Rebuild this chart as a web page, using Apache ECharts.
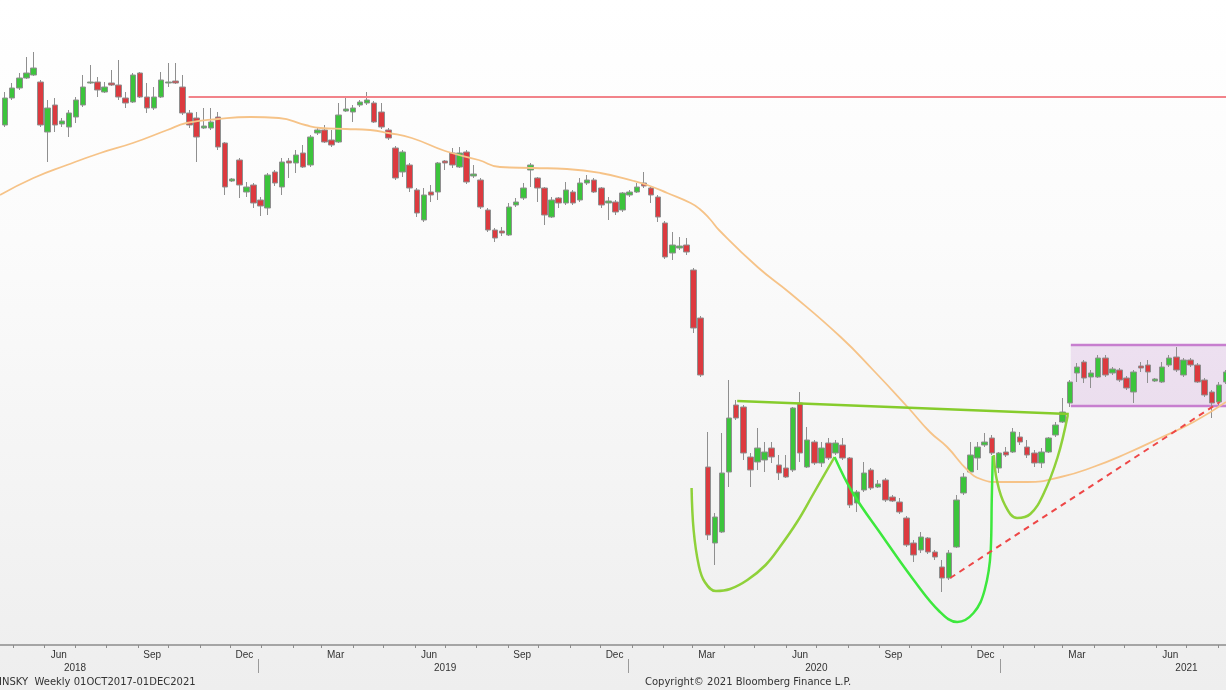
<!DOCTYPE html>
<html><head><meta charset="utf-8">
<script src="https://cdn.jsdelivr.net/npm/echarts@6/dist/echarts.min.js"></script>
<style>html,body{margin:0;padding:0;background:#f1f1f1}#c{width:1226px;height:690px}</style>
</head><body><div id="c"></div>
<script>
// ---------- data ----------
const axisStartDate = '2018-04-18';
const axisDays = 1210;
const firstBarDate = '2018-04-23';          // weekly bars, 7 days apart
const monthNames = ['Jan','Feb','Mar','Apr','May','Jun','Jul','Aug','Sep','Oct','Nov','Dec'];
const labelledMonths = [3, 6, 9, 12];
const footerLeft = 'INSKY  Weekly 01OCT2017-01DEC2021';
const footerRight = 'Copyright\u00a9 2021 Bloomberg Finance L.P.';

const opens = [52.0,54.7,55.7,56.7,57.0,56.3,51.3,54.0,52.1,51.8, 52.8,54.0,56.2,56.3,55.3,56.2,56.0,54.7,54.3,57.2, 54.8,53.7,54.8,56.2,56.4,55.8,53.2,52.7,51.7,51.7, 52.8,50.2,46.4,48.5,45.3,46.0,44.5,43.7,47.3,45.8, 48.4,48.2,49.2,48.0,51.2,51.5,50.5,50.3,53.4,53.3, 54.0,54.2,54.2,53.3,51.5,49.7,47.3,48.0,45.5,42.5, 45.3,45.3,48.4,49.2,47.8,49.3,46.9,46.5,43.5,41.5, 41.4,41.0,44.0,44.7,47.5,46.7,45.7,42.8,44.7,44.2, 45.3,44.5,46.2,46.5,45.7,44.2,44.3,43.5,45.0,45.3, 46.2,45.7,44.8,42.2,39.2,39.7,40.0,37.5,32.7,17.8, 10.2,11.3,17.3,24.0,23.8,18.8,18.3,18.5,19.7,18.0, 17.7,17.5,24.2,17.8,20.3,18.2,20.2,19.2,20.0,18.7, 14.2,15.5,17.5,15.8,16.5,14.8,14.3,12.7,10.2,9.5, 10.7,9.3,7.8,6.7,9.8,15.2,17.3,18.7,20.0,20.7, 17.7,19.3,19.3,20.8,19.8,19.2,18.2,19.3,21.0,22.3, 24.2,27.2,28.3,26.8,26.8,28.7,27.2,27.5,26.7,25.3, 27.9,28.0,26.4,26.3,28.0,28.8,27.0,28.5,28.0,26.5, 25.3,24.3,26.3];
const closes = [54.7,55.7,56.7,57.2,57.7,52.0,53.7,52.0,52.4,53.2, 54.5,55.8,56.3,55.5,55.8,56.0,54.8,54.2,57.0,54.8, 53.7,54.8,56.5,56.3,56.2,53.2,52.0,50.8,51.9,52.3, 49.8,45.8,46.6,46.0,45.8,44.2,43.9,47.0,46.2,48.3, 48.2,49.0,47.8,50.8,51.5,50.3,50.0,53.0,53.6,53.7, 54.3,54.5,52.3,51.8,50.7,46.7,49.3,45.7,43.2,45.0, 45.0,48.2,48.2,48.0,49.2,46.3,47.1,43.8,41.5,40.7, 41.2,43.8,44.3,45.7,48.0,45.7,43.0,44.5,44.2,45.5, 44.2,46.2,46.5,45.3,44.0,44.4,43.3,45.2,45.3,45.8, 45.9,45.0,42.8,38.8,40.0,39.9,39.3,31.7,27.0,11.0, 12.8,17.2,22.7,22.7,19.2,17.5,19.7,19.3,18.8,17.2, 16.8,23.7,19.2,20.5,18.2,19.7,18.7,20.2,18.7,14.0, 15.3,17.2,15.7,16.1,14.5,14.4,13.3,10.0,9.0,10.8, 9.3,8.8,6.7,9.2,14.5,16.8,19.0,19.8,20.3,19.2, 19.2,19.0,21.3,20.3,19.0,18.2,19.3,20.7,22.0,23.3, 26.3,27.8,26.7,27.2,28.7,27.0,27.6,26.5,25.7,27.3, 27.7,27.3,26.6,27.8,28.7,27.5,28.5,28.0,26.3,25.0, 24.2,26.0,27.3];
const lows = [51.8,54.5,55.5,56.6,56.9,51.8,48.3,51.3,51.8,50.8, 52.2,53.8,56.1,54.8,55.2,55.9,54.5,53.7,54.2,54.7, 53.2,53.5,54.7,55.8,56.1,53.0,51.7,48.3,51.6,51.5, 49.5,45.0,46.3,44.7,44.8,43.7,42.9,43.0,45.9,45.0, 46.7,47.2,47.7,47.8,51.0,50.2,49.8,50.2,53.3,52.3, 53.8,54.0,52.2,51.6,50.5,46.5,46.8,45.3,42.8,42.3, 44.3,44.5,47.5,47.7,47.7,46.1,46.7,43.6,41.3,40.3, 40.9,40.9,43.8,44.5,45.8,44.3,42.0,42.7,43.7,44.0, 44.0,44.3,46.0,45.2,43.7,42.5,43.0,43.3,44.8,45.2, 45.7,44.2,42.3,38.6,38.5,39.5,39.0,31.2,26.8,10.5, 8.0,11.2,15.8,22.5,18.5,15.8,17.5,17.3,18.2,16.5, 16.7,17.3,18.3,17.7,18.0,17.8,18.5,19.0,18.5,13.7, 13.3,15.3,15.5,15.7,14.3,14.3,13.1,9.8,8.3,9.2, 9.1,8.5,5.3,6.5,9.7,15.0,17.2,17.5,19.8,19.0, 17.2,18.8,19.2,20.0,18.7,17.8,17.7,19.2,20.8,22.2, 23.8,26.3,26.2,25.7,26.7,26.8,27.0,26.3,25.5,24.2, 27.3,26.2,26.3,26.2,27.8,27.3,26.8,27.8,26.2,24.8, 22.7,24.0,26.1];
const highs = [55.3,56.2,57.2,58.8,59.3,56.5,54.5,54.7,52.7,53.5, 54.8,57.0,58.0,56.8,56.3,57.5,58.5,55.3,57.2,57.3, 56.2,55.8,57.3,58.2,58.2,57.0,53.5,53.3,53.7,53.7, 53.3,50.3,46.7,48.7,46.3,46.2,44.8,47.2,47.5,48.7, 48.7,49.5,50.0,51.0,51.8,52.0,51.5,54.2,54.7,54.0, 54.5,55.3,54.4,54.2,51.7,49.9,49.5,48.2,45.7,45.7, 46.0,48.3,48.5,49.7,49.8,49.5,48.0,46.7,43.7,41.7, 41.8,44.2,44.7,46.2,48.2,46.8,45.8,44.8,44.8,46.3, 45.5,46.7,47.0,46.7,45.8,44.8,44.5,45.3,45.5,46.2, 47.3,45.8,45.0,42.4,41.3,40.8,40.7,37.7,32.9,21.3, 13.2,21.2,26.5,24.5,24.0,19.2,21.7,20.3,20.3,19.0, 19.0,23.8,25.3,21.8,20.5,20.3,20.7,20.5,20.7,18.8, 15.5,18.3,17.7,16.5,16.7,15.0,14.7,12.9,10.5,11.3, 10.8,9.5,8.5,9.5,15.0,17.2,20.3,20.3,21.2,21.0, 19.3,19.8,21.7,21.3,20.5,19.5,19.7,20.8,22.3,24.7, 26.5,28.2,28.5,27.5,29.0,29.0,27.8,27.7,26.9,27.5, 28.3,28.5,26.7,28.3,29.0,29.8,28.7,28.7,28.2,26.7, 25.5,26.3,27.5];

// moving average: week index (0 = first bar) and value
const maWeeks  = [-0.7,4,8.7,13.4,18,22.8,25.6,30,34.5,38.5,42.3,44.4,48,51.4,54,57.3,62,66.7,69.7,74.4,79.2,83.8,88.5,90.9,93.3,96.5,97.9,99.3,100.6,106,110.6,117.7,122.3,127.1,130.3,132.7,135.6,137.4,139.8,144,148.7,153.3,158.1,162.7,167.4,172];
const maValues = [45.0,46.7,48.0,49.2,50.2,51.5,52.2,52.6,52.8,52.7,52.0,51.7,51.6,51.5,51.2,50.7,49.4,48.5,47.8,47.7,47.6,47.2,46.4,45.9,45.2,44.2,43.6,42.6,41.5,37.8,35.2,30.8,27.5,23.8,21.3,19.8,17.5,16.6,16.3,16.3,16.8,17.8,19.2,20.7,22.3,24.3];

// drawn annotations (week index, value)
const resistanceLine = [[25.8, 54.8], [172, 54.8]];
const neckline = [[103.1, 24.4], [149.8, 23.1]];
const leftShoulder = [[96.66,15.7],[96.94,11.5],[97.65,8.0],[98.64,6.3],[100.18,5.4],[102.15,5.6],[104.55,6.5],[107.09,8.0],[109.2,9.8],[111.6,12.3],[113.85,15.1],[116.81,18.8]];
const headCurve = [[116.81,18.8],[119.49,15.2],[123.29,11.2],[127.94,6.5],[131.75,3.3],[134.14,2.3],[136.39,3.2],[137.94,5.5],[138.79,9.5],[139.07,14.5],[139.21,18.9]];
const rightShoulder = [[139.35,19.0],[139.78,16.5],[140.9,14.0],[142.6,12.7],[144.43,13.1],[146.26,15.1],[148.23,18.8],[149.78,23.0]];
const supportTrend = [[133.1, 6.7], [171.2, 24.3]];
const rangeBox = {startWeek: 150.1, top: 30.0, bottom: 23.9};

// ---------- build ----------
const DAY = 86400000;
const t0 = Date.parse(axisStartDate + 'T00:00:00Z');
const barOffset = Math.round((Date.parse(firstBarDate + 'T00:00:00Z') - t0) / DAY);
const days = [];
for (let i = 0; i < axisDays; i++) days.push(new Date(t0 + i * DAY).toISOString().slice(0, 10));
const dayIdx = w => Math.max(0, Math.min(axisDays - 1, Math.round(barOffset + 7 * w)));
const lastIdx = axisDays - 1;

const candles = days.map(() => '-');
opens.forEach((o, j) => { const d = dayIdx(j); candles[d] = [o, closes[j], lows[j], highs[j]]; });
const toPts = arr => arr.map(p => [dayIdx(p[0]), p[1]]);
const maData = maWeeks.map((w, i) => [dayIdx(w), maValues[i]]);

const font = 'Liberation Sans, Arial, sans-serif';
const footFont = 'DejaVu Sans, Verdana, sans-serif';
const chart = echarts.init(document.getElementById('c'), null, {renderer: 'canvas'});
const baseX = {type: 'category', data: days, boundaryGap: false, gridIndex: 0, position: 'bottom'};
chart.setOption({
  animation: false,
  backgroundColor: {type: 'linear', x: 0, y: 0, x2: 0, y2: 1, colorStops: [
    {offset: 0, color: '#ffffff'}, {offset: 0.35, color: '#fbfbfb'}, {offset: 1, color: '#eeeeee'}]},
  grid: {left: 0, right: 0, top: 0, bottom: 45, containLabel: false},
  xAxis: [
    Object.assign({}, baseX, {
      axisLine: {show: true, lineStyle: {color: '#8c8c8c', width: 1.5}},
      axisTick: {show: true, length: 3, interval: (i, v) => v.slice(8) === '01', lineStyle: {color: '#8c8c8c'}},
      axisLabel: {show: true, margin: 5, fontSize: 10, color: '#333', fontFamily: font,
        interval: (i, v) => v.slice(8) === '15' && labelledMonths.includes(+v.slice(5, 7)),
        formatter: v => monthNames[+v.slice(5, 7) - 1]},
      splitLine: {show: false}
    }),
    Object.assign({}, baseX, {
      offset: 13, axisLine: {show: false}, axisTick: {show: false},
      axisLabel: {show: true, margin: 5, fontSize: 10, color: '#333', fontFamily: font,
        interval: (i, v) => v.slice(5) === '07-01', formatter: v => v.slice(0, 4)},
      splitLine: {show: false}
    }),
    Object.assign({}, baseX, {
      offset: 14, axisLine: {show: false},
      axisTick: {show: true, length: 14, interval: (i, v) => v.slice(5) === '12-29', lineStyle: {color: '#9a9a9a', width: 1}},
      axisLabel: {show: false}, splitLine: {show: false}
    })
  ],
  yAxis: {type: 'value', min: 0, max: 64.5, show: false, splitLine: {show: false}},
  series: [
    {type: 'line', name: 'box', z: 1, symbol: 'none', silent: true,
      data: [[dayIdx(rangeBox.startWeek), rangeBox.top], [lastIdx, rangeBox.top]],
      lineStyle: {color: '#c77fcf', width: 2.5},
      markArea: {silent: true, itemStyle: {color: 'rgba(205,150,215,0.25)'},
        data: [[{xAxis: dayIdx(rangeBox.startWeek), yAxis: rangeBox.top}, {xAxis: lastIdx, yAxis: rangeBox.bottom}]]}},
    {type: 'line', name: 'boxBottom', z: 1, symbol: 'none', silent: true,
      data: [[dayIdx(rangeBox.startWeek), rangeBox.bottom], [lastIdx, rangeBox.bottom]],
      lineStyle: {color: '#c77fcf', width: 2.5}},
    {type: 'candlestick', name: 'price', z: 2, large: false, barWidth: 6, data: candles,
      itemStyle: {color: '#3cc43c', color0: '#dc3a3f', borderColor: '#8f8f8f', borderColor0: '#8f8f8f', borderWidth: 1}},
    {type: 'line', name: 'MA', z: 3, symbol: 'none', smooth: 0.5, data: maData,
      lineStyle: {color: '#f6c388', width: 1.8}},
    {type: 'line', name: 'resistance', z: 4, symbol: 'none', data: toPts(resistanceLine),
      lineStyle: {color: '#f2838a', width: 2}},
    {type: 'line', name: 'neckline', z: 4, symbol: 'none', data: toPts(neckline),
      lineStyle: {color: '#86cc2c', width: 2.5}},
    {type: 'line', name: 'leftShoulder', z: 4, symbol: 'none', smooth: 0.4, data: toPts(leftShoulder),
      lineStyle: {color: '#8fd13a', width: 2.5}},
    {type: 'line', name: 'head', z: 4, symbol: 'none', smooth: 0.4, data: toPts(headCurve),
      lineStyle: {color: '#3de83d', width: 2.5}},
    {type: 'line', name: 'rightShoulder', z: 4, symbol: 'none', smooth: 0.4, data: toPts(rightShoulder),
      lineStyle: {color: '#8fd13a', width: 2.5}},
    {type: 'line', name: 'trend', z: 4, symbol: 'none', data: toPts(supportTrend),
      lineStyle: {color: '#ee4747', width: 2, type: [6, 5]}}
  ],
  graphic: [
    {type: 'text', left: -1, top: 677, style: {text: footerLeft, font: '10px ' + footFont, fill: '#333'}},
    {type: 'text', left: 645, top: 677, style: {text: footerRight, font: '10px ' + footFont, fill: '#333'}}
  ]
});
</script></body></html>
